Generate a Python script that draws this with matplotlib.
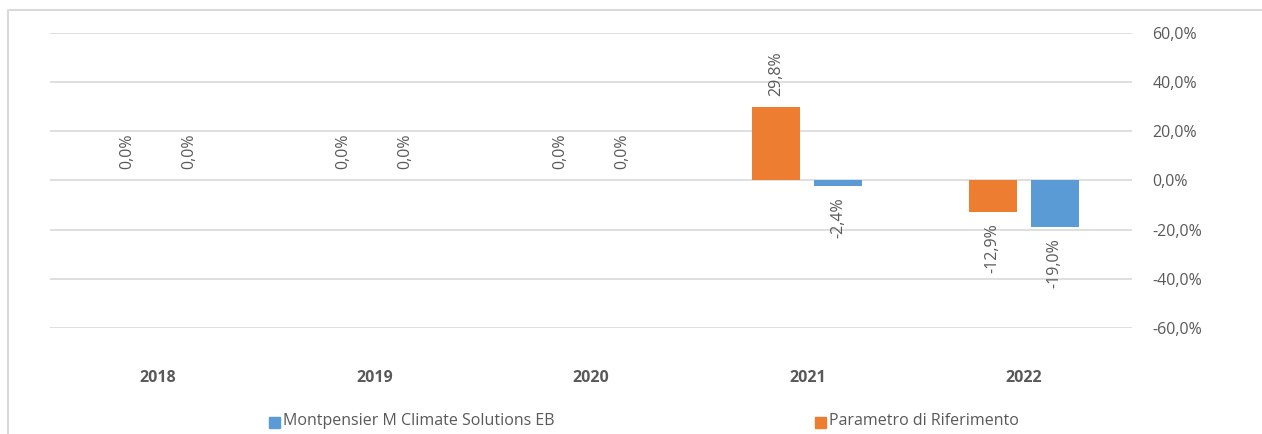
import matplotlib
matplotlib.use("Agg")
import matplotlib.pyplot as plt
import matplotlib.transforms as mtransforms
from matplotlib.patches import Rectangle
from matplotlib.lines import Line2D
import numpy as np

years = ["2018", "2019", "2020", "2021", "2022"]
fund_name = "Montpensier M Climate Solutions EB"
bench_name = "Parametro di Riferimento"
fund_vals = [0.0, 0.0, 0.0, -2.4, -19.0]
bench_vals = [0.0, 0.0, 0.0, 29.8, -12.9]
yticks = [-60, -40, -20, 0, 20, 40, 60]

BLUE = "#5B9BD5"
ORANGE = "#ED7D31"
GRID = "#D9D9D9"
TXT = "#595959"
FS = 11.5

plt.rcParams['font.family'] = ['Open Sans', 'DejaVu Sans']

W, H = 1262, 434
fig = plt.figure(figsize=(W / 100, H / 100), dpi=100)
ax = fig.add_axes([50 / W, 1 - 328 / H, (1132 - 50) / W, (328 - 33) / H])

x = np.arange(len(years))
width = 0.222
off = 0.143

def fmt(v):
    return (f"{v:.1f}%").replace(".", ",")

ax.bar(x - off, bench_vals, width, color=ORANGE, zorder=3)
ax.bar(x + off, fund_vals, width, color=BLUE, zorder=3)

for xs, vals in ((x - off, bench_vals), (x + off, fund_vals)):
    for xi, v in zip(xs, vals):
        ax.annotate(fmt(v), (xi, v), xytext=(0, 8 if v >= 0 else -8), textcoords="offset points",
                    rotation=90, ha="center", va="bottom" if v >= 0 else "top",
                    fontsize=FS, color=TXT, zorder=4)

ax.set_xlim(-0.5, len(years) - 0.5)
ax.set_ylim(-60, 60)
ax.set_yticks(yticks)
ax.set_yticklabels([fmt(float(t)) for t in yticks], fontsize=FS, color=TXT)
ax.yaxis.tick_right()
ax.tick_params(axis="y", length=0, pad=14.5)
ax.grid(axis="y", color=GRID, linewidth=1.2, zorder=0)
ax.set_axisbelow(True)
for s in ax.spines.values():
    s.set_visible(False)
ax.set_xticks([])

tr = mtransforms.blended_transform_factory(ax.transData, fig.transFigure)
for xi, yr in zip(x, years):
    ax.text(xi, 1 - 378 / H, yr, transform=tr, ha="center", va="center",
            fontsize=FS, fontweight="bold", color=TXT)

legend_items = [(269, fund_name, BLUE), (815, bench_name, ORANGE)]
for px, name, col in legend_items:
    fig.patches.append(Rectangle((px / W, 1 - 428 / H), 11 / W, 11 / H,
                                 transform=fig.transFigure, color=col))
    fig.text((px + 14) / W, 1 - 421 / H, name, ha="left", va="center",
             fontsize=FS, color=TXT)

# outer frame: top and left edges only (rest cropped)
fig.lines.append(Line2D([8 / W, 8 / W, 1.0], [0.0, 1 - 10 / H, 1 - 10 / H],
                        transform=fig.transFigure, color="#D9D9D9", linewidth=1.5))

fig.savefig("out.png", dpi=100)
